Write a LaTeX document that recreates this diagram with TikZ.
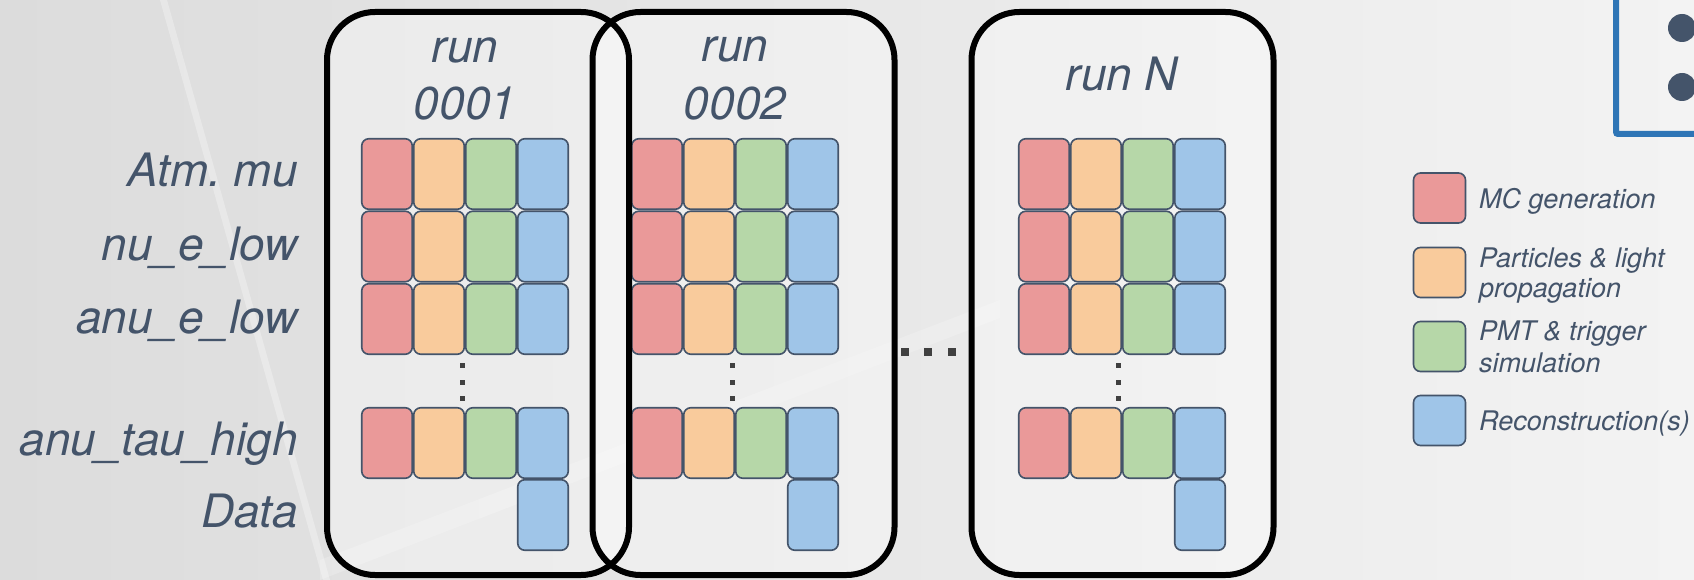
\documentclass[tikz,border=0pt]{standalone}
\usepackage{fontspec}
\setmainfont{TeX Gyre Heros}
\definecolor{slate}{HTML}{44546A}
\definecolor{cred}{HTML}{EA9999}
\definecolor{corange}{HTML}{F9CB9C}
\definecolor{cgreen}{HTML}{B6D7A8}
\definecolor{cblue}{HTML}{9FC5E8}
\definecolor{dotgray}{HTML}{404040}
\definecolor{boxblue}{HTML}{2E75B6}
\definecolor{bgleft}{HTML}{DCDCDC}
\definecolor{bgright}{HTML}{F3F3F3}
\begin{document}
\begin{tikzpicture}[x=1pt,y=-1pt,
  cell/.style={draw=slate, line width=1.6pt, rounded corners=7pt, minimum width=50.5pt, minimum height=70.5pt, inner sep=0pt, outer sep=0pt},
  runbox/.style={draw=black, line width=6pt, rounded corners=48pt, minimum width=302pt, minimum height=563pt, inner sep=0pt},
  runfill/.style={fill=white, fill opacity=0.35, rounded corners=48pt},
  biglab/.style={font=\fontsize{46}{55}\selectfont\itshape, text=slate, inner sep=0pt},
  rowlab/.style={biglab, anchor=base east},
  runlab/.style={biglab, anchor=base},
  leglab/.style={font=\fontsize{27}{30}\selectfont\itshape, text=slate, inner sep=0pt, anchor=base west},
  legsq/.style={cell, minimum width=52pt, minimum height=50pt},
  smalldot/.style={fill=dotgray, minimum size=5pt, inner sep=0pt},
  bigdot/.style={fill=dotgray, minimum size=8pt, inner sep=0pt},
  bluedot/.style={fill=slate, circle, minimum size=28pt, inner sep=0pt}
]
\useasboundingbox (0,0) rectangle (1694,580);
% background
\shade[left color=bgleft, right color=bgright] (0,0) rectangle (1694,580);
\fill[white, opacity=0.3] (160,0) -- (167,0) -- (330,580) -- (323,580) -- cycle;
\fill[white, opacity=0.2] (320,560) -- (1000,300) -- (1000,318) -- (320,580) -- cycle;
% box interiors
\fill[runfill] (327,12) rectangle (629,575);
\fill[runfill] (594,12) rectangle (893,575);
\fill[runfill] (972,12) rectangle (1273,575);
% cells
\foreach \run/\x in {a/361, b/631, n/1018} {
  \foreach \row/\y in {1/138, 2/210.5, 3/283, 4/407} {
    \foreach \col/\c in {0/cred, 1/corange, 2/cgreen, 3/cblue} {
      \node[cell, fill=\c] (\run-\row-\col) at ({\x+\col*52+26}, {\y+36}) {};
    }
  }
  \node[cell, fill=cblue] (\run-5-3) at ({\x+3*52+26}, {479+36}) {};
}
% vertical dots
\foreach \run/\x in {a/462, b/732, n/1118} {
  \foreach \i/\y in {1/365, 2/382, 3/398} {
    \node[smalldot] (\run-d\i) at (\x,\y) {};
  }
}
% horizontal ellipsis
\node[bigdot] (e1) at (905,352) {};
\node[bigdot] (e2) at (928,352) {};
\node[bigdot] (e3) at (952,352) {};
% run boxes
\node[runbox] (box1) at (478,293.5) {};
\node[runbox] (box2) at (743.5,293.5) {};
\node[runbox] (boxn) at (1122.5,293.5) {};
% run titles
\node[runlab] (r1a) at (465,63) {run};
\node[runlab] (r1b) at (465,120) {0001};
\node[runlab] (r2a) at (735,62) {run};
\node[runlab] (r2b) at (735,120) {0002};
\node[runlab] (rn) at (1122,91) {run N};
% row labels
\node[rowlab] (l1) at (298,187) {Atm.\ mu};
\node[rowlab] (l2) at (298,260) {nu\_e\_low};
\node[rowlab] (l3) at (298,333) {anu\_e\_low};
\node[rowlab] (l4) at (298,455) {anu\_tau\_high};
\node[rowlab] (l5) at (298,527) {Data};
% top-right box
\draw[boxblue, line width=6pt, rounded corners=2pt] (1616,-20) -- (1616,134) -- (1720,134);
\node[bluedot] (bd1) at (1682,28) {};
\node[bluedot] (bd2) at (1682,87) {};
% legend
\node[legsq, fill=cred] (lg1) at (1439.5,198) {};
\node[legsq, fill=corange] (lg2) at (1439.5,272.5) {};
\node[legsq, fill=cgreen] (lg3) at (1439.5,346.5) {};
\node[legsq, fill=cblue] (lg4) at (1439.5,420.5) {};
\node[leglab] (t1) at (1479,208) {MC generation};
\node[leglab] (t2a) at (1479,267) {Particles \& light};
\node[leglab] (t2b) at (1479,297) {propagation};
\node[leglab] (t3a) at (1479,340) {PMT \& trigger};
\node[leglab] (t3b) at (1479,372) {simulation};
\node[leglab] (t4) at (1479,430) {Reconstruction(s)};
\end{tikzpicture}
\end{document}
